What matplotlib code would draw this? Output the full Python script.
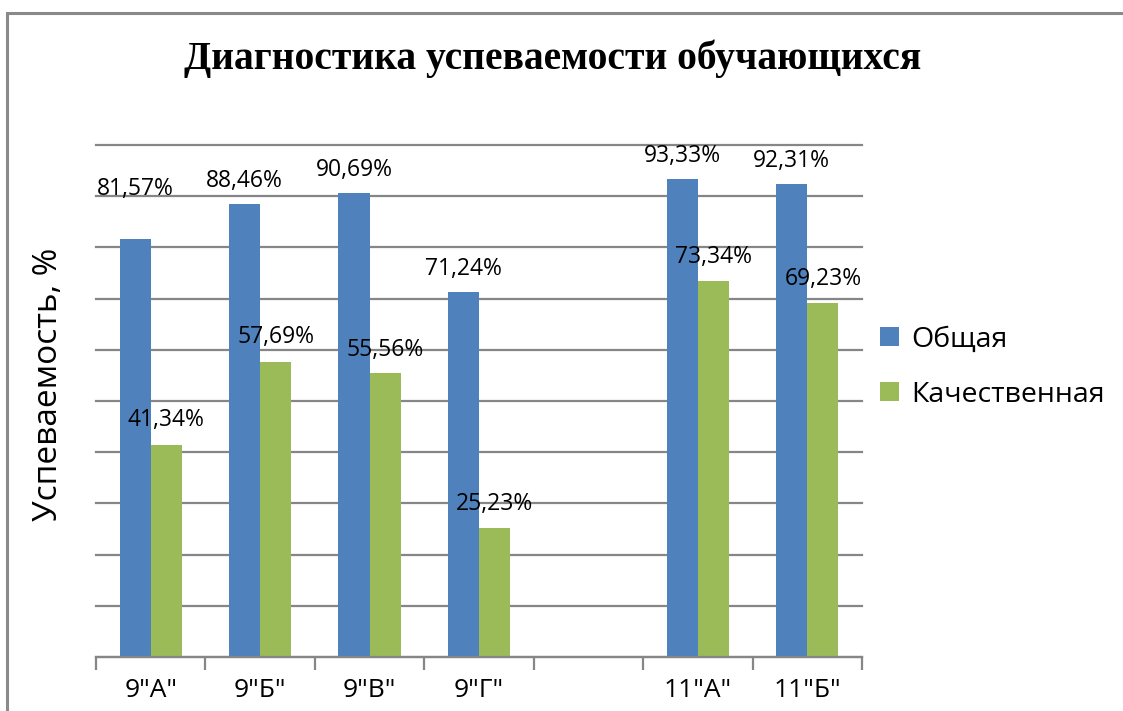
import matplotlib
matplotlib.use("Agg")
import matplotlib.pyplot as plt
import matplotlib.patches as mpatches
import numpy as np

categories = ['9"А"', '9"Б"', '9"В"', '9"Г"', '', '11"А"', '11"Б"']
obshaya = [81.57, 88.46, 90.69, 71.24, np.nan, 93.33, 92.31]
kachestv = [41.34, 57.69, 55.56, 25.23, np.nan, 73.34, 69.23]
obshaya_labels = ['81,57%', '88,46%', '90,69%', '71,24%', '', '93,33%', '92,31%']
kachestv_labels = ['41,34%', '57,69%', '55,56%', '25,23%', '', '73,34%', '69,23%']
series_names = ['Общая', 'Качественная']
title = 'Диагностика успеваемости обучающихся'
ylabel = 'Успеваемость, %'

blue = '#4F81BD'
green = '#9BBB59'
grid_c = '#868686'
sans = ['Open Sans', 'DejaVu Sans']

fig = plt.figure(figsize=(11.23, 7.11), dpi=100)
# outer chart frame
fig.patches.append(mpatches.Rectangle((7/1123, -0.05), 1.1, 1 - 13/711 + 0.05,
                                      transform=fig.transFigure, fill=False,
                                      edgecolor='#8a8a8a', lw=2.2))

ax = fig.add_axes([96/1123, 54/711, 766/1123, 512/711])
x = np.arange(len(categories))
w = 0.285
b1 = ax.bar(x - w/2, obshaya, w, color=blue, label=series_names[0], zorder=3)
b2 = ax.bar(x + w/2, kachestv, w, color=green, label=series_names[1], zorder=3)

ax.set_xlim(-0.5, len(categories) - 0.5)
ax.set_ylim(0, 100)
ax.set_yticks(np.arange(0, 101, 10))
ax.yaxis.grid(True, color=grid_c, lw=1.6, zorder=0)
for gl in ax.get_ygridlines():
    gl.set_clip_on(False)
ax.tick_params(axis='y', length=0, labelleft=False)
for s in ['left', 'right', 'top']:
    ax.spines[s].set_visible(False)
ax.spines['bottom'].set_color(grid_c)
ax.spines['bottom'].set_linewidth(1.6)
ax.spines['bottom'].set_zorder(4)

ax.set_xticks(x)
ax.set_xticklabels(categories, fontsize=19, family=sans)
ax.tick_params(axis='x', length=0, pad=15)
ax.set_xticks(np.arange(-0.5, len(categories), 1.0), minor=True)
ax.tick_params(axis='x', which='minor', length=9, width=1.6, color=grid_c, direction='out')

offsets1 = [50, 23, 23, 23, 0, 23, 23]
offsets2 = [25, 25, 23, 24, 0, 24, 24]
for xi, v, lab, off in zip(x, obshaya, obshaya_labels, offsets1):
    if lab:
        ax.annotate(lab, (xi - w/2, v), xytext=(0, off), textcoords='offset pixels',
                    ha='center', va='center', fontsize=16.5, family=sans)
for xi, v, lab, off in zip(x, kachestv, kachestv_labels, offsets2):
    if lab:
        ax.annotate(lab, (xi + w/2, v), xytext=(0, off), textcoords='offset pixels',
                    ha='center', va='center', fontsize=16.5, family=sans)

ax.set_ylabel(ylabel, fontsize=24, family=sans, va='center', ha='center')
ax.yaxis.set_label_coords(-0.062, 0.533)

fig.legend(handles=[b1, b2], labels=series_names, loc='center left',
           bbox_to_anchor=(880/1123, 1 - 367/711), frameon=False,
           borderpad=0, borderaxespad=0,
           prop={'family': sans, 'size': 20.5}, handlelength=0.65, handleheight=0.65,
           handletextpad=0.45, labelspacing=0.95)

fig.text(553/1123, 1 - 59/711, title, ha='center', va='center',
         fontsize=28.5, fontweight='bold', family=['Liberation Serif', 'DejaVu Serif'])

fig.savefig('out.png', dpi=100)
